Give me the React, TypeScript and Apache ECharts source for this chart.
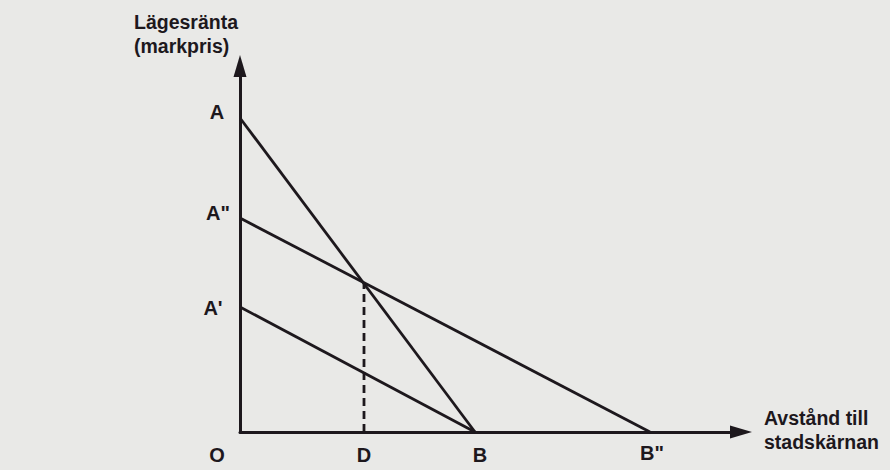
import React, { useEffect, useRef } from "react";
import * as echarts from "echarts";

// Demand-for-land (bid-rent) curves, in abstract units (distance, rent)
const yInterceptNames = ["A", 'A"', "A'"];
const yInterceptValues = [31.4, 21.4, 12.5];
const xInterceptNames = ["B", 'B"'];
const xInterceptValues = [23.5, 41.0];
// which y-intercept connects to which x-intercept
const curveFrom = [0, 1, 2];
const curveTo = [0, 1, 0];
// point D and the intersection height of curves A–B and A"–B"
const dName = "D";
const dDistance = 12.4;
const dRent = 14.9;
const originName = "O";
const axisMaxX = 50.1;
const axisMaxY = 36.6;
const yAxisTitle = "Lägesränta\n(markpris)";
const xAxisTitle = "Avstånd till\nstadskärnan";

const INK = "#1d181d";
const FONT = "'Liberation Sans', Arial, Helvetica, sans-serif";

export default function App() {
  const ref = useRef<HTMLDivElement>(null);
  useEffect(() => {
    if (!ref.current) return;
    const chart = echarts.init(ref.current, null, { renderer: "svg" });

    const curveSeries = curveFrom.map((fi, i) => ({
      type: "line",
      name: yInterceptNames[fi] + "–" + xInterceptNames[curveTo[i]],
      data: [
        [0, yInterceptValues[fi]],
        [xInterceptValues[curveTo[i]], 0],
      ],
      symbol: "none",
      lineStyle: { color: INK, width: 2.8 },
      z: 3,
      silent: true,
    }));

    const yOffsets: number[][] = [
      [-23, -6],
      [-22, -5],
      [-27, 1],
    ];
    const xOffsets: number[][] = [
      [5, 23],
      [2, 21],
    ];
    const labelPoints: any[] = [];
    yInterceptNames.forEach((n, i) =>
      labelPoints.push({ name: n, value: [0, yInterceptValues[i]], label: { offset: yOffsets[i] } })
    );
    xInterceptNames.forEach((n, i) =>
      labelPoints.push({ name: n, value: [xInterceptValues[i], 0], label: { offset: xOffsets[i] } })
    );
    labelPoints.push({ name: originName, value: [0, 0], label: { offset: [-23, 23] } });
    labelPoints.push({ name: dName, value: [dDistance, 0], label: { offset: [0, 23] } });

    const axisCommon = {
      type: "value",
      min: 0,
      axisTick: { show: false },
      axisLabel: { show: false },
      splitLine: { show: false },
      axisLine: {
        show: true,
        onZero: false,
        symbol: ["none", "triangle"],
        symbolSize: [13, 22],
        lineStyle: { color: INK, width: 3 },
      },
    };

    chart.setOption({
      animation: false,
      backgroundColor: "#e9e9e7",
      grid: { left: 240, right: 149, top: 66, bottom: 38 },
      xAxis: { ...axisCommon, max: axisMaxX },
      yAxis: { ...axisCommon, max: axisMaxY },
      series: [
        ...curveSeries,
        {
          type: "line",
          name: "D",
          data: [
            [dDistance, 0],
            [dDistance, dRent],
          ],
          symbol: "none",
          lineStyle: { color: INK, width: 2.8, type: [8, 5] },
          z: 2,
          silent: true,
        },
        {
          type: "scatter",
          data: labelPoints,
          symbolSize: 0.1,
          itemStyle: { color: INK },
          silent: true,
          label: {
            show: true,
            position: "inside",
            formatter: "{b}",
            color: INK,
            opacity: 1,
            textBorderWidth: 0,
            fontFamily: FONT,
            fontWeight: "bold",
            fontSize: 20,
          },
          z: 5,
        },
      ],
      graphic: [
        {
          type: "text",
          left: 134,
          top: 10,
          style: {
            text: yAxisTitle,
            fill: INK,
            font: "bold 19.5px " + FONT,
            lineHeight: 24,
          },
        },
        {
          type: "text",
          left: 764,
          top: 406,
          style: {
            text: xAxisTitle,
            fill: INK,
            font: "bold 19.5px " + FONT,
            lineHeight: 24,
          },
        },
      ],
    });
    return () => chart.dispose();
  }, []);
  return (
    <div
      ref={ref}
      style={{ position: "absolute", left: 0, top: 0, width: 890, height: 470 }}
    />
  );
}
